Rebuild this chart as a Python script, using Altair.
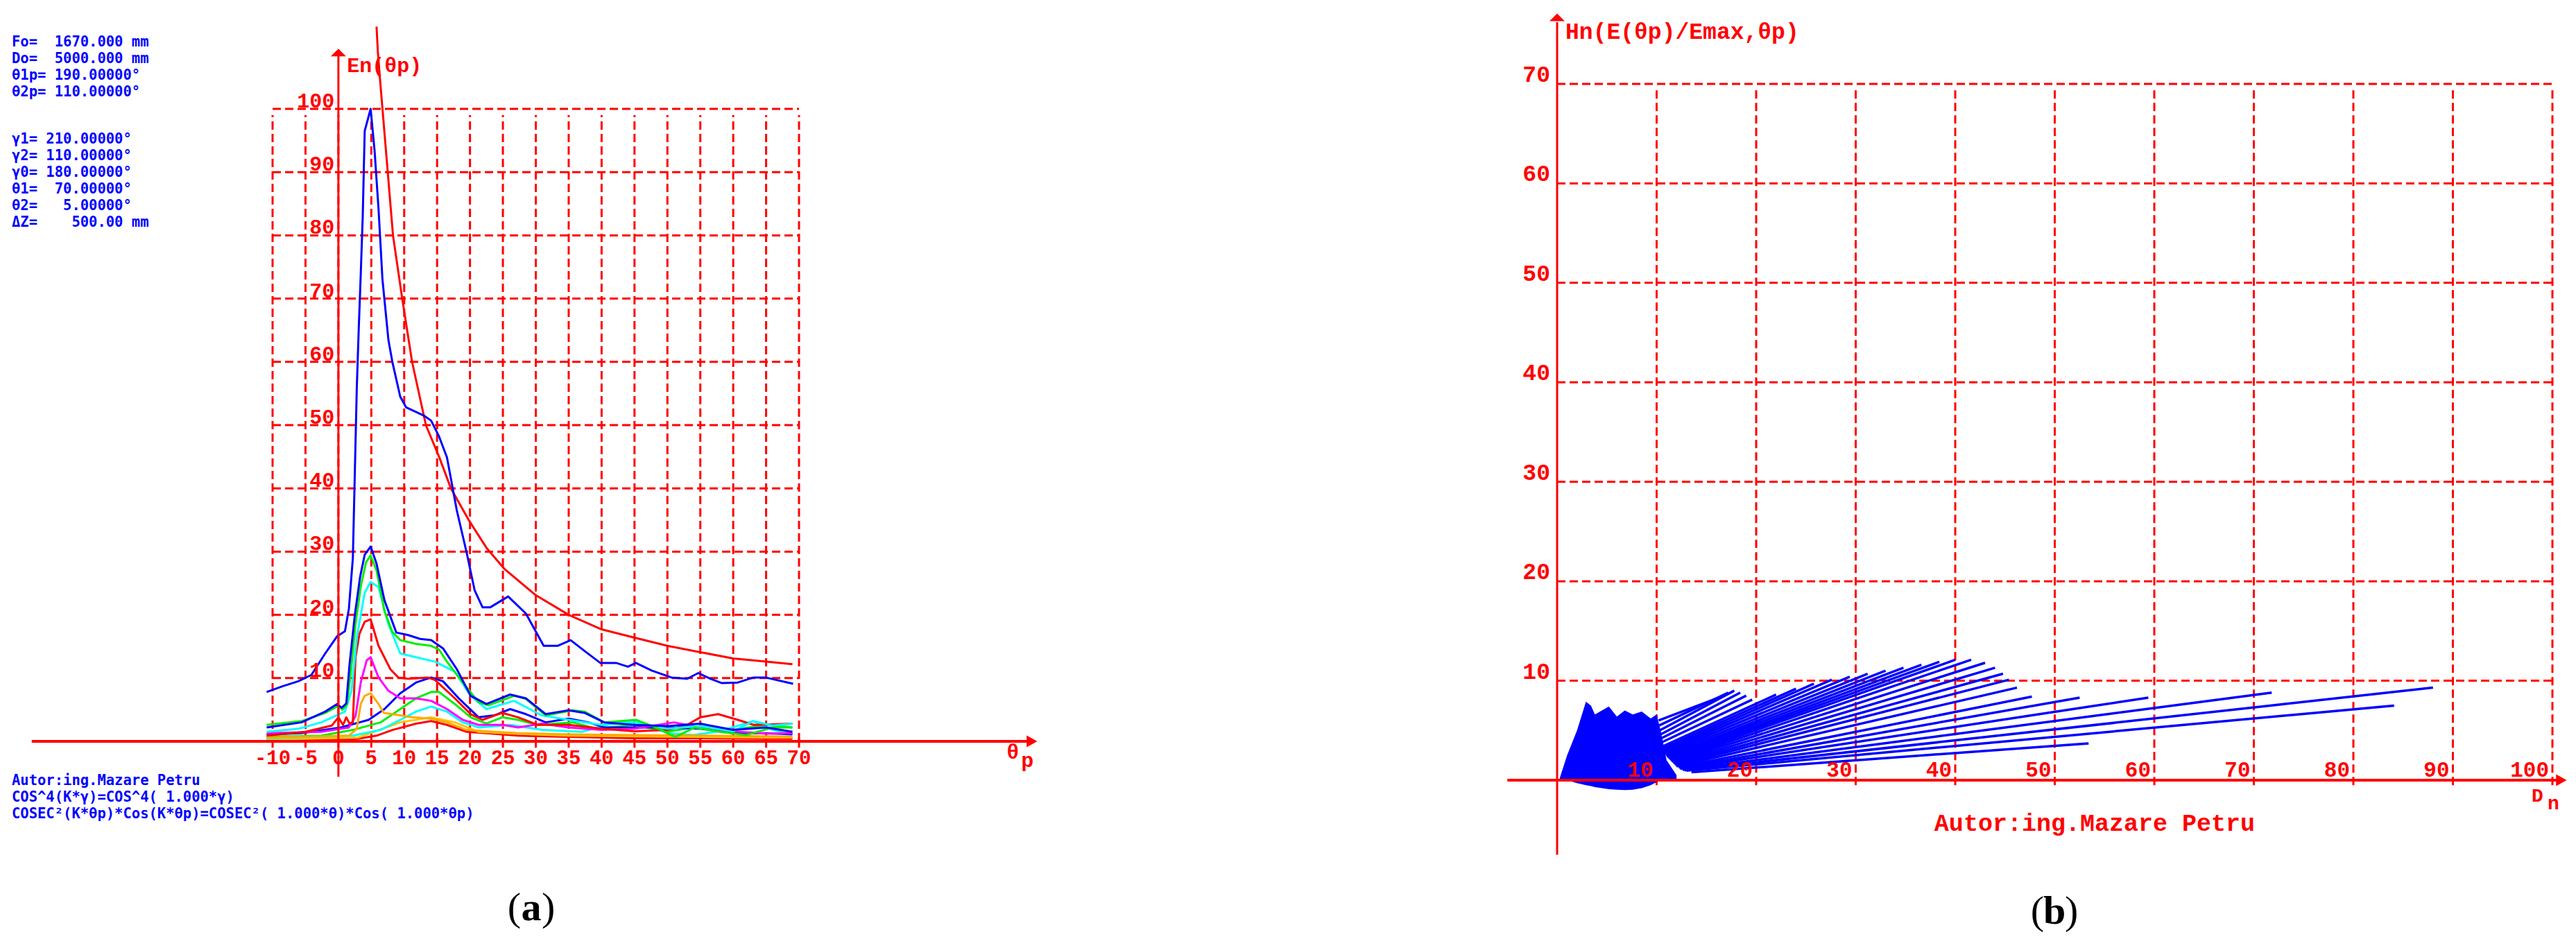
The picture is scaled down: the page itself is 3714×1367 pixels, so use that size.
import altair as alt
import pandas as pd

RED = "#ff0000"
BLUE = "#0000ff"
GREEN = "#00ee00"
CYAN = "#00ffff"
MAGENTA = "#ff00ff"
ORANGE = "#ffaa00"
YELLOW = "#ffc400"
MONO = "Liberation Mono"
TXT = "DejaVu Sans Mono"
W, H = 3698, 1351

# ---------------- panel (a) : En(θp) ----------------
a_theta_ticks = [-10, -5, 0, 5, 10, 15, 20, 25, 30, 35, 40, 45, 50, 55, 60, 65, 70]
a_en_ticks = [10, 20, 30, 40, 50, 60, 70, 80, 90, 100]

main_t = [-10.9, -8.5, -6.1, -4.1, -2.0, -0.2, 1.0, 1.6, 2.2, 2.8, 3.1, 3.4, 3.7, 4.0, 4.9, 5.5, 6.1, 6.7, 7.6,
          8.2, 9.4, 10.3, 13.0, 14.1, 15.3, 16.5, 18.0, 19.5, 20.7, 21.9, 23.1, 25.8, 28.5, 31.2, 33.3, 35.3,
          37.4, 39.8, 42.2, 44.0, 45.2, 47.6, 50.6, 53.0, 54.7, 56.5, 58.3, 60.7, 63.1, 64.9, 69.1]
main_v = [7.8, 8.7, 9.5, 10.5, 13.9, 16.6, 17.4, 21.0, 29.0, 56.0, 65.4, 73.9, 83.0, 96.5, 100.0, 93.4, 84.2,
          73.0, 63.5, 60.0, 54.5, 52.8, 51.5, 50.7, 48.2, 44.9, 36.5, 29.8, 23.9, 21.2, 21.2, 22.9, 20.2, 15.1,
          15.1, 16.0, 14.3, 12.4, 12.4, 11.8, 12.4, 11.2, 10.1, 9.9, 10.8, 9.9, 9.2, 9.3, 10.1, 10.1, 9.1]

ref_t = [5.8, 6.0, 6.3, 6.7, 7.5, 8.3, 9.7, 11.2, 13.3, 15.3, 17.1, 19.8, 22.5, 25.2, 30.0, 35.0, 40.0, 45.0,
         50.0, 55.0, 60.0, 65.0, 69.0]
ref_v = [113, 109, 105, 100, 90, 80, 70, 60, 50, 45, 40, 35, 30.6, 27.3, 23.1, 20.0, 17.7, 16.4, 15.1, 14.1,
         13.1, 12.6, 12.2]

b2_t = [-10.9, -5.6, -2.0, -0.2, 0.5, 1.2, 1.7, 2.5, 3.3, 4.0, 4.9, 5.8, 7.0, 8.8, 10.6, 12.4, 14.1, 15.9, 18.0,
        20.1, 22.5, 26.1, 28.5, 31.5, 35.0, 37.4, 40.4, 45.0, 50.0, 55.0, 60.0, 65.0, 69.0]
b2_v = [2.2, 3.0, 4.7, 5.9, 5.3, 6.0, 12.2, 20.0, 26.0, 29.5, 30.8, 28.1, 22.3, 17.2, 16.8, 16.2, 16.0, 14.7,
        11.4, 7.2, 5.9, 7.4, 6.8, 4.3, 4.9, 4.5, 3.0, 2.6, 2.4, 2.8, 1.8, 2.2, 1.5]

g1_t = [-10.9, -5.6, -2.0, 0.0, 0.6, 1.3, 1.9, 2.6, 3.4, 4.2, 4.9, 5.8, 7.0, 8.2, 9.4, 11.8, 14.1, 15.3, 16.5,
        18.9, 21.3, 22.8, 26.7, 28.5, 31.5, 35.6, 37.4, 40.4, 45.2, 48.2, 51.2, 54.2, 58.0, 62.0, 66.0, 69.0]
g1_v = [2.6, 3.2, 4.5, 5.6, 5.0, 5.8, 11.0, 18.5, 24.5, 28.3, 29.4, 27.0, 20.6, 17.3, 16.0, 15.4, 15.1, 14.5,
        12.6, 9.3, 6.2, 5.7, 7.2, 6.7, 4.1, 4.9, 4.7, 3.0, 3.4, 2.2, 0.7, 2.2, 1.5, 1.0, 2.2, 2.2]

c1_t = [-10.9, -6.0, -2.6, 1.0, 2.0, 2.8, 4.0, 4.9, 6.1, 7.6, 9.4, 11.8, 14.7, 17.7, 20.1, 22.5, 26.7, 30.9,
        35.0, 40.0, 45.0, 50.0, 55.0, 60.0, 63.0, 66.0, 69.0]
c1_v = [1.5, 2.0, 3.0, 4.7, 8.0, 16.4, 23.5, 25.2, 24.4, 18.5, 13.9, 13.3, 12.6, 11.0, 7.2, 5.1, 6.4, 4.1, 3.4,
        2.6, 3.0, 2.0, 2.4, 1.6, 3.2, 2.5, 2.8]

r1_t = [-10.9, -5.0, -1.0, 0.0, 0.7, 1.2, 1.7, 2.2, 2.6, 3.2, 4.0, 4.9, 6.1, 7.9, 9.1, 10.6, 13.6, 14.7, 17.7,
        20.1, 21.9, 24.9, 27.3, 30.3, 35.0, 40.0, 45.0, 50.0, 53.0, 55.0, 57.7, 60.7, 63.1, 66.0, 69.0]
r1_v = [0.9, 1.5, 2.5, 3.8, 2.6, 3.8, 2.8, 3.0, 13.3, 17.0, 18.9, 19.3, 15.1, 11.4, 10.1, 9.9, 10.1, 9.7, 6.8,
        4.3, 3.4, 4.5, 3.8, 2.6, 2.6, 2.0, 1.6, 1.8, 2.6, 3.8, 4.3, 3.4, 2.6, 2.7, 2.8]

m1_t = [-10.9, -2.6, 1.6, 2.6, 3.4, 4.3, 4.9, 6.1, 7.6, 9.4, 11.8, 14.1, 16.5, 18.9, 21.3, 25.0, 27.3, 30.9,
        35.0, 40.0, 45.0, 51.0, 55.0, 60.0, 65.0, 69.0]
m1_v = [1.3, 1.5, 2.2, 4.0, 9.3, 12.8, 13.3, 10.1, 8.0, 6.8, 6.8, 6.4, 5.1, 3.4, 2.6, 2.6, 2.2, 2.8, 2.2, 1.8,
        2.0, 3.0, 2.2, 1.6, 1.2, 1.3]

o1_t = [-10.9, 1.6, 2.8, 3.4, 4.0, 4.9, 6.1, 6.9, 8.2, 11.2, 14.1, 16.5, 19.5, 22.5, 27.3, 35.0, 45.0, 55.0,
        65.0, 69.0]
o1_v = [0.6, 0.9, 2.0, 5.9, 7.2, 7.6, 5.9, 4.5, 4.3, 3.8, 3.6, 3.0, 1.8, 1.6, 1.3, 1.1, 1.0, 0.9, 0.8, 0.7]

b3_t = [-10.9, -5.6, 0.4, 4.6, 7.0, 9.4, 11.8, 14.1, 15.9, 18.3, 21.3, 23.7, 26.1, 28.5, 31.5, 35.0, 38.0,
        40.4, 45.0, 50.0, 55.0, 60.0, 65.0, 69.0]
b3_v = [1.1, 1.3, 2.2, 3.4, 5.1, 7.6, 9.3, 10.1, 9.5, 6.8, 3.8, 4.1, 5.1, 4.3, 3.0, 3.6, 3.0, 2.2, 2.2, 2.2,
        2.0, 1.3, 1.3, 1.1]

g2_t = [-10.9, -2.6, 2.2, 6.4, 9.4, 11.8, 14.1, 15.3, 17.7, 20.1, 22.5, 24.9, 27.3, 30.3, 35.6, 39.2, 45.0,
        50.0, 55.0, 60.0, 65.0, 69.0]
g2_v = [0.7, 0.9, 1.8, 3.0, 5.1, 6.8, 7.8, 7.8, 5.9, 3.8, 2.8, 3.8, 3.4, 2.6, 3.0, 2.0, 2.6, 1.5, 2.4, 1.8,
        2.6, 2.2]

c2_t = [-10.9, 2.2, 6.4, 9.4, 11.8, 14.1, 16.5, 18.9, 21.3, 26.1, 31.0, 37.0, 42.2, 46.0, 50.0, 54.0, 58.0,
        63.0, 66.0, 69.0]
c2_v = [0.5, 0.9, 1.8, 3.4, 4.7, 5.5, 4.7, 3.0, 2.2, 2.6, 1.8, 1.5, 3.0, 3.0, 1.3, 1.0, 1.6, 3.2, 1.8, 1.2]

y1_t = [-10.9, 3.0, 9.4, 14.1, 17.7, 21.3, 27.0, 35.0, 45.0, 55.0, 65.0, 69.0]
y1_v = [0.3, 0.6, 3.0, 3.8, 3.0, 1.5, 1.2, 0.9, 0.8, 0.7, 0.6, 0.6]

r2_t = [-10.9, 3.0, 5.8, 8.2, 11.8, 14.1, 16.5, 19.5, 22.5, 27.3, 35.0, 45.0, 55.0, 65.0, 69.0]
r2_v = [0.3, 0.4, 0.9, 1.8, 2.8, 3.2, 2.6, 1.5, 1.3, 0.9, 0.7, 0.5, 0.5, 0.4, 0.4]

a_series = [
    (r2_t, r2_v, RED), (y1_t, y1_v, YELLOW), (c2_t, c2_v, CYAN), (g2_t, g2_v, GREEN),
    (b3_t, b3_v, BLUE), (o1_t, o1_v, ORANGE), (m1_t, m1_v, MAGENTA), (r1_t, r1_v, RED),
    (c1_t, c1_v, CYAN), (g1_t, g1_v, GREEN), (b2_t, b2_v, BLUE), (ref_t, ref_v, RED),
    (main_t, main_v, BLUE),
]

# ---------------- panel (b) : Hn vs Dn ----------------
b_dn_ticks = [10, 20, 30, 40, 50, 60, 70, 80, 90, 100]
b_hn_ticks = [10, 20, 30, 40, 50, 60, 70]

blob_dn = [0.2, 1.0, 2.0, 2.9, 3.4, 3.8, 4.5, 5.2, 6.0, 6.8, 7.6, 8.5, 9.4, 10.0, 10.4, 11.0, 12.0]
blob_top = [0.0, 2.5, 5.0, 7.9, 7.5, 6.6, 7.0, 7.4, 6.4, 7.0, 6.6, 6.9, 6.2, 6.6, 5.0, 2.0, 0.5]
blob_bot = [0.0, 0.0, -0.3, -0.5, -0.6, -0.7, -0.8, -0.9, -0.95, -1.0, -0.95, -0.8, -0.5, -0.2, 0.0, 0.0, 0.0]

fan_d0 = [10.2, 10.25, 10.3, 10.4, 10.45, 10.5,
          10.6, 10.65, 10.7, 10.75, 10.8, 10.9, 11.0, 11.1, 11.2, 11.3, 11.4, 11.5, 11.6, 11.7, 11.8, 11.9, 12.0,
          12.2, 12.3, 12.4, 12.6, 12.8, 13.0, 13.5]
fan_h0 = [6.0, 5.5, 5.0, 4.6, 4.2, 3.8,
          3.4, 3.2, 3.0, 2.85, 2.7, 2.55, 2.4, 2.3, 2.2, 2.1, 2.0, 1.9, 1.8, 1.7, 1.6, 1.5, 1.4,
          1.3, 1.2, 1.15, 1.05, 1.0, 0.95, 0.8]
fan_d1 = [16.5, 17.2, 17.8, 18.4, 19.0, 19.6,
          22.0, 24.0, 25.8, 27.6, 29.4, 31.2, 33.0, 34.8, 36.6, 38.4, 40.0, 41.6, 43.0, 44.0, 44.8, 45.4, 46.2,
          47.7, 52.5, 59.4, 71.8, 88.0, 84.1, 53.4]
fan_h1 = [8.4, 8.8, 9.0, 8.8, 8.5, 8.1,
          8.6, 9.2, 9.7, 10.1, 10.4, 10.7, 11.0, 11.3, 11.6, 11.9, 12.1, 12.1, 11.8, 11.3, 10.7, 10.1, 9.3,
          8.4, 8.3, 8.3, 8.8, 9.3, 7.5, 3.7]

param_lines = [
    "Fo=\u00a0\u00a01670.000\u00a0mm",
    "Do=\u00a0\u00a05000.000\u00a0mm",
    "θ1p=\u00a0190.00000°",
    "θ2p=\u00a0110.00000°",
    "γ1=\u00a0210.00000°",
    "γ2=\u00a0110.00000°",
    "γ0=\u00a0180.00000°",
    "θ1=\u00a0\u00a070.00000°",
    "θ2=\u00a0\u00a0\u00a05.00000°",
    "ΔZ=\u00a0\u00a0\u00a0\u00a0500.00\u00a0mm",
]
param_y = [61, 85, 109, 133, 201, 225, 249, 273, 297, 321]
formula_lines = [
    "Autor:ing.Mazare\u00a0Petru",
    "COS^4(K*γ)=COS^4(\u00a01.000*γ)",
    "COSEC²(K*θp)*Cos(K*θp)=COSEC²(\u00a01.000*θ)*Cos(\u00a01.000*θp)",
]
formula_y = [1126, 1150, 1174]

# ---------------- scales ----------------
LX = alt.Scale(domain=[-10, 70], range=[385, 1144], nice=False, zero=False)
LY = alt.Scale(domain=[0, 100], range=[1061, 149], nice=False, zero=False)
RX = alt.Scale(domain=[0, 100], range=[2237, 3672], nice=False, zero=False)
RY = alt.Scale(domain=[0, 70], range=[1117, 113], nice=False, zero=False)


def lx(f):
    return alt.X(f, type="quantitative", scale=LX, axis=None)


def ly(f):
    return alt.Y(f, type="quantitative", scale=LY, axis=None)


def rx(f):
    return alt.X(f, type="quantitative", scale=RX, axis=None)


def ry(f):
    return alt.Y(f, type="quantitative", scale=RY, axis=None)


ONE = pd.DataFrame({"a": [0]})


def ptext(s, x, y, size=20.5, color=BLUE, align="left", weight="bold", font=TXT):
    return alt.Chart(ONE).mark_text(
        text=s, font=font, fontSize=size, fontWeight=weight, color=color, align=align, baseline="middle"
    ).encode(x=alt.value(x - 8), y=alt.value(y - 8))


def serif(s, x, y, align, weight="normal"):
    return ptext(s, x, y, size=58, color="black", align=align, weight=weight, font="Liberation Serif")


DASH = [12, 6]
UP = "M -1 0.5 L 0 -0.5 L 1 0.5 Z"
RIGHT = "M -0.9 -1 L 0.9 0 L -0.9 1 Z"

# ---------- left layers ----------
L = []
L.append(alt.Chart(pd.DataFrame({"v": a_en_ticks, "x0": -10, "x1": 70}))
         .mark_rule(color=RED, strokeWidth=3, strokeDash=DASH)
         .encode(x=lx("x0"), x2="x1", y=ly("v")))
L.append(alt.Chart(pd.DataFrame({"t": a_theta_ticks, "y0": 0, "y1": 99}))
         .mark_rule(color=RED, strokeWidth=3, strokeDash=DASH)
         .encode(x=lx("t"), y=ly("y0"), y2="y1"))
L.append(alt.Chart(pd.DataFrame({"t": a_theta_ticks, "y0": -1.0, "y1": 0.5}))
         .mark_rule(color=RED, strokeWidth=3)
         .encode(x=lx("t"), y=ly("y0"), y2="y1"))
for t, v, c in a_series:
    df = pd.DataFrame({"t": t, "v": v, "i": list(range(len(t)))})
    L.append(alt.Chart(df).mark_line(color=c, strokeWidth=3, strokeJoin="round")
             .encode(x=lx("t"), y=ly("v"), order="i:Q"))
# axes
L.append(alt.Chart(pd.DataFrame({"t": [0], "y0": [-5.6], "y1": [108.5]}))
         .mark_rule(color=RED, strokeWidth=3).encode(x=lx("t"), y=ly("y0"), y2="y1"))
L.append(alt.Chart(pd.DataFrame({"v": [0], "x0": [-46.6], "x1": [104.8]}))
         .mark_rule(color=RED, strokeWidth=4).encode(x=lx("x0"), x2="x1", y=ly("v")))
L.append(alt.Chart(pd.DataFrame({"t": [0], "v": [108.9]}))
         .mark_point(shape=UP, size=484, filled=True, color=RED, opacity=1)
         .encode(x=lx("t"), y=ly("v")))
L.append(alt.Chart(pd.DataFrame({"t": [105.4], "v": [0]}))
         .mark_point(shape=RIGHT, size=289, filled=True, color=RED, opacity=1)
         .encode(x=lx("t"), y=ly("v")))
# tick labels
L.append(alt.Chart(pd.DataFrame({"t": a_theta_ticks, "v": -2.63, "lab": [str(k) for k in a_theta_ticks]}))
         .mark_text(font=MONO, fontSize=29, fontWeight="bold", color=RED, align="center", baseline="middle")
         .encode(x=lx("t"), y=ly("v"), text="lab:N"))
L.append(alt.Chart(pd.DataFrame({"t": -0.6, "v": a_en_ticks, "lab": [str(k) for k in a_en_ticks]}))
         .mark_text(font=MONO, fontSize=30, fontWeight="bold", color=RED, align="right", baseline="middle", dy=-11)
         .encode(x=lx("t"), y=ly("v"), text="lab:N"))
L.append(alt.Chart(pd.DataFrame({"t": [1.3], "v": [106.8], "lab": ["En(θp)"]}))
         .mark_text(font=MONO, fontSize=30, fontWeight="bold", color=RED, align="left", baseline="middle")
         .encode(x=lx("t"), y=ly("v"), text="lab:N"))
L.append(alt.Chart(pd.DataFrame({"t": [102.5, 104.7], "v": [-1.75, -3.1], "lab": ["θ", "p"]}))
         .mark_text(font=MONO, fontSize=30, fontWeight="bold", color=RED, align="center", baseline="middle")
         .encode(x=lx("t"), y=ly("v"), text="lab:N"))
for s, y in zip(param_lines, param_y):
    L.append(ptext(s, 17, y))
for s, y in zip(formula_lines, formula_y):
    L.append(ptext(s, 17, y))
L.append(serif("(", 751, 1310, "right"))
L.append(serif("a", 766, 1310, "center", "bold"))
L.append(serif(")", 781, 1310, "left"))

# ---------- right layers ----------
R = []
R.append(alt.Chart(pd.DataFrame({"v": b_hn_ticks, "x0": 0, "x1": 100}))
         .mark_rule(color=RED, strokeWidth=3, strokeDash=DASH)
         .encode(x=rx("x0"), x2="x1", y=ry("v")))
R.append(alt.Chart(pd.DataFrame({"d": b_dn_ticks, "y0": -0.5, "y1": 69.5}))
         .mark_rule(color=RED, strokeWidth=3, strokeDash=DASH)
         .encode(x=rx("d"), y=ry("y0"), y2="y1"))
R.append(alt.Chart(pd.DataFrame({"d": blob_dn, "top": blob_top, "bot": blob_bot}))
         .mark_area(color=BLUE, opacity=1)
         .encode(x=rx("d"), y=ry("top"), y2="bot"))
fan_rows = []
for k in range(len(fan_d0)):
    fan_rows.append({"id": k, "i": 0, "d": fan_d0[k], "h": fan_h0[k]})
    fan_rows.append({"id": k, "i": 1, "d": fan_d1[k], "h": fan_h1[k]})
R.append(alt.Chart(pd.DataFrame(fan_rows)).mark_line(color=BLUE, strokeWidth=3.5)
         .encode(x=rx("d"), y=ry("h"), detail="id:N", order="i:Q"))
R.append(alt.Chart(pd.DataFrame({"d": [0], "y0": [-7.5], "y1": [76.2]}))
         .mark_rule(color=RED, strokeWidth=3).encode(x=rx("d"), y=ry("y0"), y2="y1"))
R.append(alt.Chart(pd.DataFrame({"v": [0], "x0": [-5.0], "x1": [100.5]}))
         .mark_rule(color=RED, strokeWidth=4).encode(x=rx("x0"), x2="x1", y=ry("v")))
R.append(alt.Chart(pd.DataFrame({"d": [0], "v": [76.7]}))
         .mark_point(shape=UP, size=484, filled=True, color=RED, opacity=1)
         .encode(x=rx("d"), y=ry("v")))
R.append(alt.Chart(pd.DataFrame({"d": [100.9], "v": [0]}))
         .mark_point(shape=RIGHT, size=289, filled=True, color=RED, opacity=1)
         .encode(x=rx("d"), y=ry("v")))
R.append(alt.Chart(pd.DataFrame({"d": b_dn_ticks, "v": 0, "lab": [str(k) for k in b_dn_ticks]}))
         .mark_text(font=MONO, fontSize=31, fontWeight="bold", color=RED, align="right", baseline="middle",
                    dx=-5, dy=-14)
         .encode(x=rx("d"), y=ry("v"), text="lab:N"))
R.append(alt.Chart(pd.DataFrame({"d": -0.7, "v": b_hn_ticks, "lab": [str(k) for k in b_hn_ticks]}))
         .mark_text(font=MONO, fontSize=33, fontWeight="bold", color=RED, align="right", baseline="middle", dy=-13)
         .encode(x=rx("d"), y=ry("v"), text="lab:N"))
R.append(alt.Chart(pd.DataFrame({"d": [0.84], "v": [75.2], "lab": ["Hn(E(θp)/Emax,θp)"]}))
         .mark_text(font=MONO, fontSize=33, fontWeight="bold", color=RED, align="left", baseline="middle")
         .encode(x=rx("d"), y=ry("v"), text="lab:N"))
R.append(alt.Chart(pd.DataFrame({"d": [98.5, 100.1], "v": [-1.6, -2.35], "lab": ["D", "n"]}))
         .mark_text(font=MONO, fontSize=28, fontWeight="bold", color=RED, align="center", baseline="middle")
         .encode(x=rx("d"), y=ry("v"), text="lab:N"))
R.append(alt.Chart(pd.DataFrame({"d": [54.0], "v": [-4.35], "lab": ["Autor:ing.Mazare\u00a0Petru"]}))
         .mark_text(font=MONO, fontSize=35, fontWeight="bold", color=RED, align="center", baseline="middle")
         .encode(x=rx("d"), y=ry("v"), text="lab:N"))
R.append(serif("(", 2947, 1315, "right"))
R.append(serif("b", 2962, 1315, "center", "bold"))
R.append(serif(")", 2977, 1315, "left"))

chart = (
    alt.layer(alt.layer(*L), alt.layer(*R))
    .resolve_scale(x="independent", y="independent")
    .properties(width=W, height=H, padding=0, autosize=alt.AutoSizeParams(type="none"), background="white")
    .configure_view(stroke=None)
)

chart.save("out.html", embed_options={"renderer": "svg", "actions": False})
